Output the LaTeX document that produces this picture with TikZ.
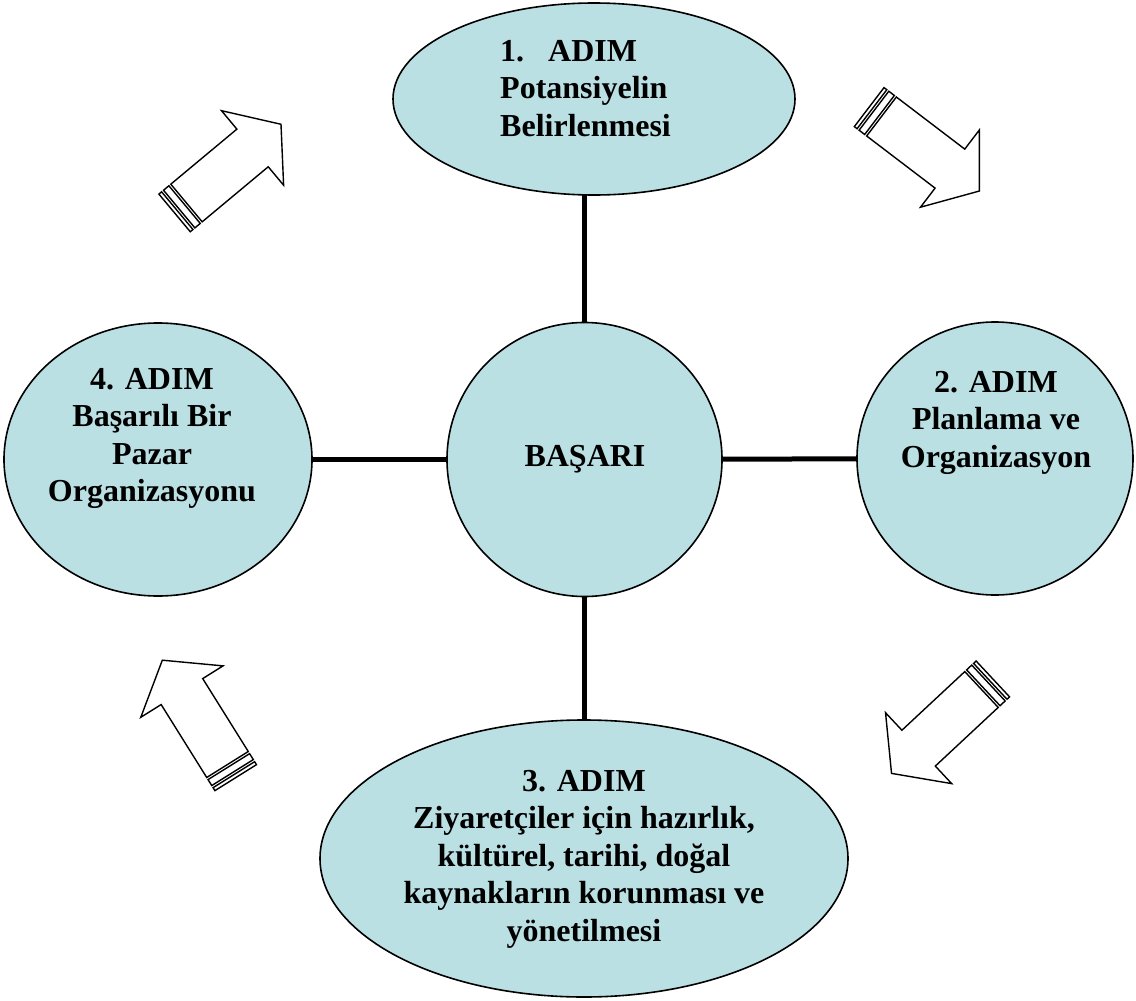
\documentclass[tikz,border=0pt]{standalone}
\usepackage{fontspec}
\setmainfont{Liberation Serif}
\usetikzlibrary{shapes.geometric,backgrounds}
\definecolor{stepfill}{RGB}{187,224,227}
\tikzset{
  stage/.style={ellipse, draw=black, line width=1.6pt, fill=stepfill, inner sep=0pt},
  steptext/.style={font=\fontsize{32}{37.5}\selectfont\bfseries, inner sep=0pt, text=black},
  link/.style={line width=5pt},
  arrowline/.style={draw=black, fill=white, line width=1.4pt, line join=miter},
  pics/flowarrow/.style={code={
    \draw[arrowline] (-15.5,-24.5) rectangle (-12,24.5);
    \draw[arrowline] (-9.5,-24.5) rectangle (-2.5,24.5);
    \draw[arrowline] (0,24.5) -- (86,24.5) -- (86,48.5) -- (123,0)
      -- (86,-48.5) -- (86,-24.5) -- (0,-24.5) -- cycle;
  }}
}
\begin{document}
\begin{tikzpicture}[x=1pt,y=-1pt]
  \useasboundingbox (0,0) rectangle (1136,1001);

  % the four steps around the central goal
  \node[stage, minimum width=402pt, minimum height=192pt] (top) at (594,99) {};
  \node[stage, minimum width=275pt, minimum height=274pt] (cen) at (584.5,459.5) {};
  \node[stage, minimum width=276pt, minimum height=273pt] (right) at (995,458.5) {};
  \node[stage, minimum width=308pt, minimum height=273pt] (left) at (158,459.5) {};
  \node[stage, minimum width=528pt, minimum height=277pt] (bot) at (584,858.5) {};

  % spokes from the centre
  \begin{scope}[on background layer]
    \draw[link] (cen) -- (cen |- top);
    \draw[link] (cen) -- (cen |- bot);
    \draw[link] (left) -- (cen);
    \draw[link] (cen) -- (right);
  \end{scope}

  % labels
  \node[steptext, anchor=north west, align=left] (t1) at (500,40)
    {1.\hspace{0.75em}ADIM\\Potansiyelin\\Belirlenmesi};
  \node[steptext, anchor=base] (t0) at (585,466) {BAŞARI};
  \node[steptext, anchor=north, align=center] (t2) at (996,371)
    {2. ADIM\\Planlama ve\\Organizasyon};
  \node[steptext, anchor=north, align=center] (t3) at (584,770)
    {3. ADIM\\Ziyaretçiler için hazırlık,\\kültürel, tarihi, doğal\\kaynakların korunması ve\\yönetilmesi};
  \node[steptext, anchor=north, align=center] (t4) at (152,368)
    {4. ADIM\\Başarılı Bir\\Pazar\\Organizasyonu};

  % cycle arrows
  \pic[rotate=39.8] at (186.5,203) {flowarrow};
  \pic[rotate=-37.3] at (881.5,116.5) {flowarrow};
  \pic[rotate=223] at (981.5,689.5) {flowarrow};
  \pic[rotate=122] at (227.5,764.5) {flowarrow};
\end{tikzpicture}
\end{document}
